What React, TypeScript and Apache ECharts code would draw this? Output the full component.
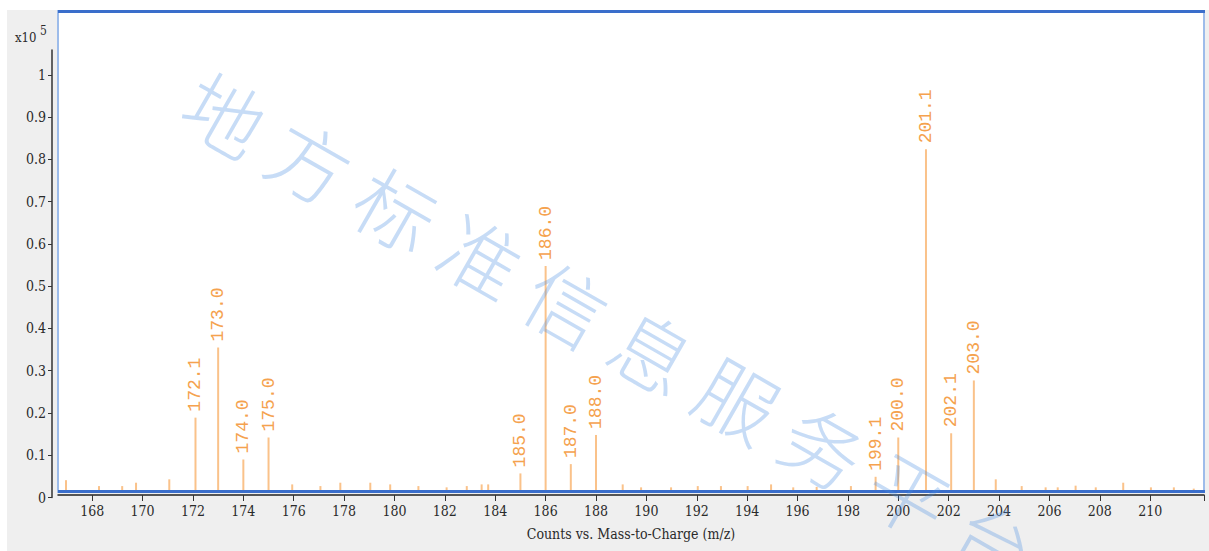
import React, { useEffect, useRef } from "react";
import * as echarts from "echarts";

// Labelled ions: m/z and intensity (x10^5 counts)
const peakMz = [172.1, 173.0, 174.0, 175.0, 185.0, 186.0, 187.0, 188.0, 199.1, 200.0, 201.1, 202.1, 203.0];
const peakCounts = [0.189, 0.355, 0.09, 0.142, 0.057, 0.548, 0.079, 0.148, 0.049, 0.142, 0.824, 0.152, 0.277];

// Small unlabelled signals near the baseline
const noiseMz = [
  166.96, 168.27, 169.19, 169.74, 171.06, 175.94, 177.06, 177.85, 179.04, 179.83,
  180.95, 182.07, 182.87, 183.46, 183.72, 189.06, 189.79, 190.98, 192.04, 192.96,
  194.02, 194.95, 195.83, 196.76, 198.12, 203.87, 204.9, 205.85, 206.33, 207.04,
  207.84, 208.93, 210.03, 210.94, 211.73,
];
const noiseCounts = [
  0.041, 0.027, 0.027, 0.035, 0.043, 0.031, 0.027, 0.035, 0.035, 0.031,
  0.027, 0.024, 0.027, 0.031, 0.031, 0.031, 0.024, 0.024, 0.027, 0.027,
  0.027, 0.031, 0.024, 0.025, 0.027, 0.043, 0.027, 0.024, 0.024, 0.028,
  0.024, 0.035, 0.024, 0.024, 0.021,
];

// Axis ticks
const xTickValues = [168, 170, 172, 174, 176, 178, 180, 182, 184, 186, 188, 190, 192, 194, 196, 198, 200, 202, 204, 206, 208, 210];
const yTickValues = [0, 0.1, 0.2, 0.3, 0.4, 0.5, 0.6, 0.7, 0.8, 0.9, 1];
const yTickLabels = ["0", "0.1", "0.2", "0.3", "0.4", "0.5", "0.6", "0.7", "0.8", "0.9", "1"];

const xAxisTitle = "Counts vs. Mass-to-Charge (m/z)";
const watermark = "地方标准信息服务平台";

const X_MIN = 166.642;
const X_MAX = 212.137;

const axisFont = "'DejaVu Serif Condensed', 'Liberation Serif', serif";
const peakColor = "#fac28a";
const labelColor = "#f5a24e";

export default function App() {
  const ref = useRef<HTMLDivElement>(null);

  useEffect(() => {
    if (!ref.current) return;
    const chart = echarts.init(ref.current, null, { renderer: "svg" });

    const peakData = peakMz.map((m, i) => [m, peakCounts[i]]);
    const noiseData = noiseMz.map((m, i) => [m, noiseCounts[i]]);

    // Diagonal watermark, one glyph at a time so each can be tilted
    const watermarkItems = watermark.split("").map((ch, i) => ({
      type: "text",
      x: 226 + i * 85.5,
      y: 112 + i * 47.5,
      rotation: -0.52,
      z: 100,
      silent: true,
      style: {
        text: ch,
        fontSize: 80,
        fontFamily: "'Noto Sans CJK SC'",
        fontWeight: 300,
        fill: "rgba(70,140,225,0.30)",
        align: "center",
        verticalAlign: "middle",
      },
    }));

    chart.setOption({
      animation: false,
      grid: [
        {
          left: 58,
          top: 11,
          right: 5,
          height: 481,
          show: true,
          backgroundColor: "#ffffff",
          borderColor: "#9dbcea",
          borderWidth: 2,
        },
        { left: 52, top: 50, width: 10, height: 447.5 },
      ],
      xAxis: [
        {
          type: "value",
          gridIndex: 0,
          min: X_MIN,
          max: X_MAX,
          position: "bottom",
          offset: 3,
          axisLine: { show: true, lineStyle: { color: "#222", width: 1.5 } },
          axisTick: {
            show: true,
            customValues: [...xTickValues, X_MAX],
            length: 6,
            lineStyle: { color: "#333", width: 1 },
          },
          axisLabel: {
            customValues: xTickValues,
            margin: 9,
            fontFamily: axisFont,
            fontSize: 14,
            color: "#2a2a2a",
            formatter: (v: number) => String(Math.round(v)),
          },
          splitLine: { show: false },
          name: xAxisTitle,
          nameLocation: "middle",
          nameGap: 32,
          nameTextStyle: { fontFamily: axisFont, fontSize: 14, color: "#2a2a2a" },
        },
        { type: "value", gridIndex: 1, show: false, min: 0, max: 1 },
      ],
      yAxis: [
        { type: "value", gridIndex: 0, min: 0.013, max: 1.1515, show: false },
        {
          type: "value",
          gridIndex: 1,
          min: 0,
          max: 1.059,
          axisLine: { show: true, lineStyle: { color: "#333", width: 1.5 } },
          axisTick: { show: true, customValues: yTickValues, length: 4, lineStyle: { color: "#333" } },
          axisLabel: {
            customValues: yTickValues,
            margin: 6,
            fontFamily: axisFont,
            fontSize: 14,
            color: "#2a2a2a",
            formatter: (v: number) => {
              const idx = yTickValues.findIndex((t) => Math.abs(t - v) < 1e-6);
              return idx >= 0 ? yTickLabels[idx] : "";
            },
          },
          splitLine: { show: false },
        },
      ],
      graphic: [
        {
          type: "rect",
          z: -10,
          silent: true,
          shape: { x: 7, y: 10, width: 1202, height: 541 },
          style: { fill: "#efefef" },
        },
        {
          type: "line",
          z: 50,
          shape: { x1: 58, y1: 11.5, x2: 1205, y2: 11.5 },
          style: { stroke: "#3a6ecb", lineWidth: 3 },
        },
        {
          type: "line",
          z: 50,
          shape: { x1: 58, y1: 491.5, x2: 1205, y2: 491.5 },
          style: { stroke: "#3a6ecb", lineWidth: 3 },
        },
        {
          type: "text",
          x: 15,
          y: 31,
          style: { text: "x10", fontFamily: axisFont, fontSize: 13, fill: "#2a2a2a" },
        },
        {
          type: "text",
          x: 40,
          y: 25,
          style: { text: "5", fontFamily: axisFont, fontSize: 12, fill: "#2a2a2a" },
        },
        ...watermarkItems,
      ],
      series: [
        {
          type: "bar",
          xAxisIndex: 0,
          yAxisIndex: 0,
          data: noiseData,
          barWidth: 2,
          barGap: "-100%",
          itemStyle: { color: peakColor },
          clip: true,
        },
        {
          type: "bar",
          xAxisIndex: 0,
          yAxisIndex: 0,
          data: peakData,
          barWidth: 2,
          barGap: "-100%",
          itemStyle: { color: peakColor },
          clip: true,
          label: {
            show: true,
            position: "top",
            rotate: 90,
            align: "left",
            verticalAlign: "middle",
            distance: 6,
            fontFamily: "'Liberation Mono', monospace",
            fontSize: 18,
            color: labelColor,
            formatter: (p: any) => Number(p.value[0]).toFixed(1),
          },
        },
      ],
    });

    return () => chart.dispose();
  }, []);

  return (
    <div
      ref={ref}
      style={{ position: "absolute", left: 0, top: 0, width: 1209, height: 551 }}
    />
  );
}
